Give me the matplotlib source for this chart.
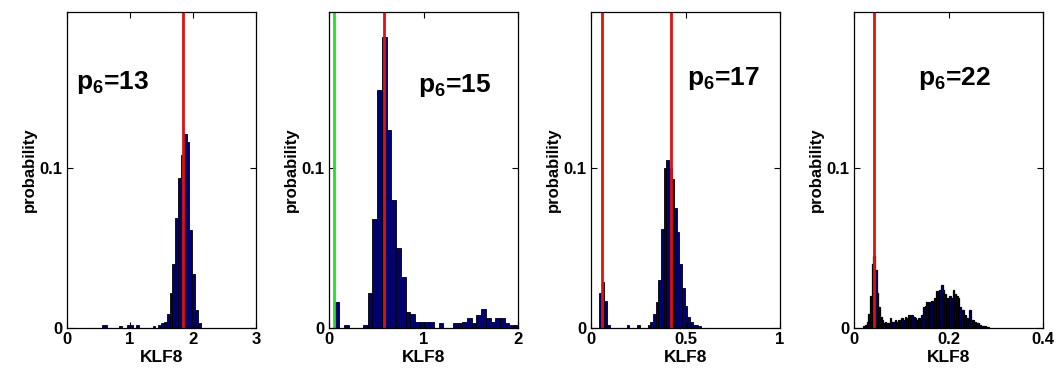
import matplotlib
matplotlib.use("Agg")
import matplotlib.pyplot as plt
import numpy as np

plt.rcParams['font.family'] = ['Liberation Sans', 'DejaVu Sans']
plt.rcParams['font.weight'] = 'bold'
plt.rcParams['mathtext.fontset'] = 'custom'
plt.rcParams['mathtext.rm'] = 'Liberation Sans'
plt.rcParams['mathtext.bf'] = 'Liberation Sans:bold'

# ---------------- data ----------------
p6_values = [13, 15, 17, 22]
x_limits = [(0, 3), (0, 2), (0, 1), (0, 0.4)]
x_ticks = [[0, 1, 2, 3], [0, 1, 2], [0, 0.5, 1], [0, 0.2, 0.4]]
x_ticklabels = [["0", "1", "2", "3"], ["0", "1", "2"], ["0", "0.5", "1"], ["0", "0.2", "0.4"]]
y_ticks = [0, 0.1]
y_ticklabels = ["0", "0.1"]

# panel 1 (p6=13)
bins1 = [0.575, 0.62, 0.845, 0.98, 1.025, 1.115, 1.38, 1.47, 1.515,
         1.56, 1.605, 1.65, 1.695, 1.74, 1.785, 1.83, 1.875, 1.92, 1.965,
         2.01, 2.055, 2.10]
prob1 = [0.002, 0.002, 0.001, 0.002, 0.002, 0.002, 0.001, 0.002, 0.003,
         0.004, 0.009, 0.022, 0.040, 0.069, 0.094, 0.108, 0.121, 0.116, 0.061,
         0.034, 0.011, 0.003]
width1 = 0.045
red1 = [1.84]
green1 = []

# panel 2 (p6=15)
bins2 = [0.085, 0.185, 0.385, 0.435, 0.485, 0.535, 0.585, 0.635, 0.685, 0.735,
         0.785, 0.835, 0.885, 0.935, 0.985, 1.035, 1.085, 1.185, 1.335, 1.385,
         1.435, 1.485, 1.535, 1.585, 1.635, 1.685, 1.735, 1.785, 1.835, 1.885,
         1.935, 1.985]
prob2 = [0.016, 0.002, 0.002, 0.022, 0.068, 0.149, 0.182, 0.124, 0.080, 0.050,
         0.032, 0.010, 0.009, 0.004, 0.004, 0.004, 0.004, 0.003, 0.003, 0.003,
         0.004, 0.006, 0.003, 0.008, 0.012, 0.006, 0.004, 0.006, 0.006, 0.003,
         0.002, 0.002]
width2 = 0.05
red2 = [0.58]
green2 = [0.05]

# panel 3 (p6=17)
bins3 = [0.050, 0.064, 0.078, 0.092, 0.195, 0.250,
         0.307, 0.321, 0.335, 0.349, 0.363, 0.377, 0.391, 0.405, 0.419, 0.433,
         0.447, 0.461, 0.475, 0.489, 0.503, 0.517, 0.531, 0.545, 0.559, 0.573]
prob3 = [0.022, 0.029, 0.017, 0.002, 0.002, 0.002,
         0.002, 0.004, 0.009, 0.016, 0.030, 0.062, 0.100, 0.105, 0.100, 0.093,
         0.075, 0.060, 0.040, 0.025, 0.014, 0.007, 0.004, 0.002, 0.002, 0.001]
width3 = 0.014
red3 = [0.057, 0.423]
green3 = []

# panel 4 (p6=22)
bins4 = [0.0215, 0.025, 0.0285, 0.032, 0.0355, 0.039, 0.0425, 0.046, 0.0495, 0.053,
         0.0565, 0.060, 0.0635, 0.067, 0.0705, 0.074, 0.0775, 0.081, 0.0845, 0.088,
         0.0915, 0.095, 0.0985, 0.102, 0.1055, 0.109, 0.1125, 0.116, 0.1195, 0.123,
         0.1265, 0.130, 0.1335, 0.137, 0.1405, 0.144, 0.1475, 0.151, 0.1545, 0.158,
         0.1615, 0.165, 0.1685, 0.172, 0.1755, 0.179, 0.1825, 0.186, 0.1895, 0.193,
         0.1965, 0.200, 0.2035, 0.207, 0.2105, 0.214, 0.2175, 0.221, 0.2245, 0.228,
         0.2315, 0.235, 0.2385, 0.242, 0.2455, 0.249, 0.2525, 0.256, 0.2595, 0.263,
         0.2665, 0.270, 0.2735, 0.277, 0.2805, 0.284]
prob4 = [0.001, 0.002, 0.004, 0.009, 0.020, 0.040, 0.045, 0.036, 0.022, 0.013,
         0.007, 0.005, 0.003, 0.004, 0.003, 0.003, 0.006, 0.004, 0.004, 0.005,
         0.004, 0.005, 0.004, 0.006, 0.005, 0.007, 0.006, 0.008, 0.007, 0.008,
         0.007, 0.006, 0.005, 0.006, 0.005, 0.008, 0.013, 0.014, 0.016, 0.015,
         0.016, 0.017, 0.015, 0.019, 0.023, 0.020, 0.024, 0.027, 0.024, 0.021,
         0.019, 0.018, 0.020, 0.019, 0.024, 0.021, 0.020, 0.019, 0.013, 0.011,
         0.011, 0.008, 0.006, 0.005, 0.011, 0.004, 0.005, 0.004, 0.003, 0.003,
         0.002, 0.001, 0.001, 0.001, 0.0005, 0.0005]
width4 = 0.0035
red4 = [0.042]
green4 = []

panels = [
    (bins1, prob1, width1, red1, green1),
    (bins2, prob2, width2, red2, green2),
    (bins3, prob3, width3, red3, green3),
    (bins4, prob4, width4, red4, green4),
]
edge_widths = [0.6, 0.6, 0.6, 0.9]
label_pos = [(0.05, 0.755), (0.47, 0.748), (0.51, 0.77), (0.34, 0.77)]

# ---------------- figure ----------------
fig = plt.figure(figsize=(10.56, 3.74), dpi=100)
W, H = 1056, 374
lefts = [67, 329, 591, 854]
ax_w = 189
bottom_px = 328
top_px = 12

for i, (bins, prob, w, reds, greens) in enumerate(panels):
    ax = fig.add_axes([lefts[i] / W, 1 - bottom_px / H, ax_w / W, (bottom_px - top_px) / H])
    ax.bar(bins, prob, width=w, color='#000070', edgecolor='black', linewidth=edge_widths[i])
    for xv in greens:
        ax.axvline(xv, color='#22e022', linewidth=2)
    for xv in reds:
        ax.axvline(xv, color='#e01010', linewidth=2)
    ax.set_xlim(*x_limits[i])
    ax.set_ylim(0, 0.1975)
    ax.set_xticks(x_ticks[i])
    ax.set_xticklabels(x_ticklabels[i])
    ax.set_yticks(y_ticks)
    ax.set_yticklabels(y_ticklabels)
    ax.tick_params(direction='in', top=True, right=True, length=4, width=0.8,
                   labelsize=12, pad=3)
    for lab in ax.get_xticklabels() + ax.get_yticklabels():
        lab.set_fontweight('bold')
    ax.set_xlabel('KLF8', fontsize=12.5, fontweight='bold', labelpad=2)
    ax.set_ylabel('probability', fontsize=12, fontweight='bold', labelpad=2)
    for sp in ax.spines.values():
        sp.set_linewidth(0.9)
    lx, ly = label_pos[i]
    ax.text(lx, ly, r'p$_{\mathbf{6}}$=%d' % p6_values[i], transform=ax.transAxes,
            fontsize=19, fontweight='bold', ha='left', va='baseline')

fig.savefig('out.png', dpi=100)
